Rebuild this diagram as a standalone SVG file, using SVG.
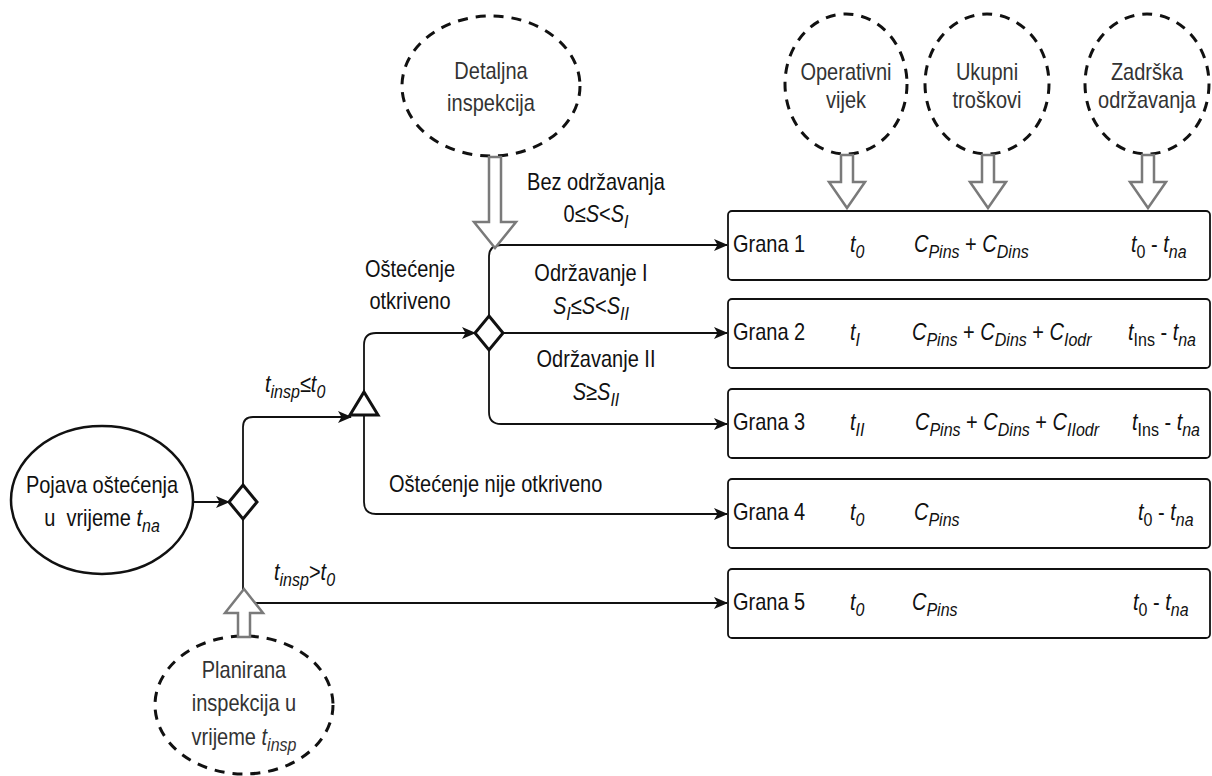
<svg xmlns="http://www.w3.org/2000/svg" width="1212" height="776" viewBox="0 0 1212 776">
<style>
text{font-family:"Liberation Sans",Arial,sans-serif;font-size:20px;fill:#111}
.g{fill:#333}
.i{font-style:italic}
.s{font-size:16px}
.c{text-anchor:middle}
.dash{fill:none;stroke:#111;stroke-width:3;stroke-dasharray:10 8}
.hol{fill:#fff;stroke:#7a7a7a;stroke-width:2.5;stroke-linejoin:miter}
.box{fill:#fff;stroke:#111;stroke-width:1.8}
.con{fill:none;stroke:#111;stroke-width:1.8}
.sym{fill:#fff;stroke:#111;stroke-width:3}
</style>
<defs>
<marker id="ah" markerUnits="userSpaceOnUse" markerWidth="14" markerHeight="14" viewBox="0 0 14 14" refX="13" refY="7" orient="auto">
<path d="M0,1 L14,7 L0,13 L3.5,7 Z" fill="#111"/>
</marker>
</defs>
<rect width="1212" height="776" fill="#fff"/>

<g id="connectors">
<path class="con" d="M193,502 L229,502" marker-end="url(#ah)"/>
<path class="con" d="M243,485 L243,427 Q243,417 253,417 L351,417" marker-end="url(#ah)"/>
<path class="con" d="M364,392 L364,345 Q364,333 376,333 L475,333" marker-end="url(#ah)"/>
<path class="con" d="M364,416 L364,502 Q364,514 376,514 L727,514" marker-end="url(#ah)"/>
<path class="con" d="M489,317 L489,257 Q489,245 501,245 L727,245" marker-end="url(#ah)"/>
<path class="con" d="M503,333 L727,333" marker-end="url(#ah)"/>
<path class="con" d="M489,350 L489,412 Q489,424 501,424 L727,424" marker-end="url(#ah)"/>
<path class="con" d="M243,519 L243,593 Q243,603 253,603 L727,603" marker-end="url(#ah)"/>
</g>

<g id="start">
<ellipse cx="102" cy="500" rx="91" ry="74" fill="#fff" stroke="#111" stroke-width="2.5"/>
<text class="c" transform="translate(102,493) scale(1,1.2)">Pojava oštećenja</text>
<text class="c" transform="translate(102,526) scale(1,1.2)">u&#160; vrijeme <tspan class="i">t</tspan><tspan class="i s" dy="5">na</tspan></text>
</g>

<g id="decision1"><polygon class="sym" points="243,485 257,502 243,519 229,502"/></g>
<g id="triangle"><polygon class="sym" points="364,392 378,415 350,415"/></g>
<g id="decision2"><polygon class="sym" points="489,316 503,333 489,350 475,333"/></g>

<g id="labels">
<text transform="translate(265,392) scale(1,1.2)"><tspan class="i">t</tspan><tspan class="i s" dy="5">insp</tspan><tspan dy="-5">≤</tspan><tspan class="i">t</tspan><tspan class="i s" dy="5">0</tspan></text>
<text transform="translate(274,580) scale(1,1.2)"><tspan class="i">t</tspan><tspan class="i s" dy="5">insp</tspan><tspan dy="-5">&gt;</tspan><tspan class="i">t</tspan><tspan class="i s" dy="5">0</tspan></text>
<text class="c" transform="translate(410,277) scale(1,1.2)">Oštećenje</text>
<text class="c" transform="translate(410,309) scale(1,1.2)">otkriveno</text>
<text class="c" transform="translate(596,190) scale(1,1.2)">Bez održavanja</text>
<text class="c" transform="translate(596,222) scale(1,1.2)">0≤<tspan class="i">S</tspan>&lt;<tspan class="i">S</tspan><tspan class="i s" dy="5">I</tspan></text>
<text class="c" transform="translate(591,281) scale(1,1.2)">Održavanje I</text>
<text class="c" transform="translate(591,314) scale(1,1.2)"><tspan class="i">S</tspan><tspan class="i s" dy="5">I</tspan><tspan dy="-5">≤</tspan><tspan class="i">S</tspan>&lt;<tspan class="i">S</tspan><tspan class="i s" dy="5">II</tspan></text>
<text class="c" transform="translate(596,367) scale(1,1.2)">Održavanje II</text>
<text class="c" transform="translate(596,400) scale(1,1.2)"><tspan class="i">S</tspan>≥<tspan class="i">S</tspan><tspan class="i s" dy="5">II</tspan></text>
<text transform="translate(389,492) scale(1,1.2)">Oštećenje nije otkriveno</text>
</g>

<g id="detaljna">
<ellipse class="dash" cx="491" cy="86" rx="89" ry="70"/>
<text class="c g" transform="translate(491,79) scale(1,1.2)">Detaljna</text>
<text class="c g" transform="translate(491,111) scale(1,1.2)">inspekcija</text>
<path class="hol" d="M489,157 L501,157 L501,222 L516,222 L495,248 L474,222 L489,222 Z"/>
</g>

<g id="operativni">
<ellipse class="dash" cx="846" cy="84" rx="61" ry="70"/>
<text class="c g" transform="translate(846,80) scale(1,1.2)">Operativni</text>
<text class="c g" transform="translate(846,108) scale(1,1.2)">vijek</text>
<path class="hol" d="M841,155 L853,155 L853,182 L865,182 L847,208 L829,182 L841,182 Z"/>
</g>
<g id="ukupni">
<ellipse class="dash" cx="987" cy="84" rx="62" ry="70"/>
<text class="c g" transform="translate(987,80) scale(1,1.2)">Ukupni</text>
<text class="c g" transform="translate(987,108) scale(1,1.2)">troškovi</text>
<path class="hol" d="M982,155 L994,155 L994,182 L1006,182 L988,208 L970,182 L982,182 Z"/>
</g>
<g id="zadrska">
<ellipse class="dash" cx="1147" cy="84" rx="62" ry="70"/>
<text class="c g" transform="translate(1147,80) scale(1,1.2)">Zadrška</text>
<text class="c g" transform="translate(1147,108) scale(1,1.2)">održavanja</text>
<path class="hol" d="M1142,155 L1154,155 L1154,182 L1166,182 L1148,208 L1130,182 L1142,182 Z"/>
</g>

<g id="planirana">
<ellipse class="dash" cx="244" cy="705" rx="89" ry="69"/>
<text class="c g" transform="translate(244,678) scale(1,1.2)">Planirana</text>
<text class="c g" transform="translate(244,711) scale(1,1.2)">inspekcija u</text>
<text class="c g" transform="translate(244,745) scale(1,1.2)">vrijeme <tspan class="i">t</tspan><tspan class="i s" dy="5">insp</tspan></text>
<path class="hol" d="M238,637 L250,637 L250,613 L263,613 L244,589 L225,613 L238,613 Z"/>
</g>

<g id="grana1">
<rect class="box" x="728" y="211" width="482" height="69" rx="4"/>
<text transform="translate(733,252) scale(1,1.2)">Grana 1</text>
<text transform="translate(850,252) scale(1,1.2)"><tspan class="i">t</tspan><tspan class="i s" dy="5">0</tspan></text>
<text transform="translate(914,252) scale(1,1.2)"><tspan class="i">C</tspan><tspan class="i s" dy="5">Pins</tspan><tspan dy="-5"> + </tspan><tspan class="i">C</tspan><tspan class="i s" dy="5">Dins</tspan></text>
<text transform="translate(1131,252) scale(1,1.2)"><tspan class="i">t</tspan><tspan class="s" dy="5">0</tspan><tspan dy="-5"> - </tspan><tspan class="i">t</tspan><tspan class="i s" dy="5">na</tspan></text>
</g>
<g id="grana2">
<rect class="box" x="728" y="299" width="482" height="69" rx="4"/>
<text transform="translate(733,340) scale(1,1.2)">Grana 2</text>
<text transform="translate(850,340) scale(1,1.2)"><tspan class="i">t</tspan><tspan class="i s" dy="5">I</tspan></text>
<text transform="translate(912,340) scale(1,1.2)"><tspan class="i">C</tspan><tspan class="i s" dy="5">Pins</tspan><tspan dy="-5"> + </tspan><tspan class="i">C</tspan><tspan class="i s" dy="5">Dins</tspan><tspan dy="-5"> + </tspan><tspan class="i">C</tspan><tspan class="i s" dy="5">Iodr</tspan></text>
<text transform="translate(1128,340) scale(1,1.2)"><tspan class="i">t</tspan><tspan class="s" dy="5">Ins</tspan><tspan dy="-5"> - </tspan><tspan class="i">t</tspan><tspan class="i s" dy="5">na</tspan></text>
</g>
<g id="grana3">
<rect class="box" x="728" y="389" width="482" height="69" rx="4"/>
<text transform="translate(733,430) scale(1,1.2)">Grana 3</text>
<text transform="translate(850,430) scale(1,1.2)"><tspan class="i">t</tspan><tspan class="i s" dy="5">II</tspan></text>
<text transform="translate(915,430) scale(1,1.2)"><tspan class="i">C</tspan><tspan class="i s" dy="5">Pins</tspan><tspan dy="-5"> + </tspan><tspan class="i">C</tspan><tspan class="i s" dy="5">Dins</tspan><tspan dy="-5"> + </tspan><tspan class="i">C</tspan><tspan class="i s" dy="5">IIodr</tspan></text>
<text transform="translate(1132,430) scale(1,1.2)"><tspan class="i">t</tspan><tspan class="s" dy="5">Ins</tspan><tspan dy="-5"> - </tspan><tspan class="i">t</tspan><tspan class="i s" dy="5">na</tspan></text>
</g>
<g id="grana4">
<rect class="box" x="728" y="479" width="482" height="69" rx="4"/>
<text transform="translate(733,520) scale(1,1.2)">Grana 4</text>
<text transform="translate(850,520) scale(1,1.2)"><tspan class="i">t</tspan><tspan class="i s" dy="5">0</tspan></text>
<text transform="translate(914,520) scale(1,1.2)"><tspan class="i">C</tspan><tspan class="i s" dy="5">Pins</tspan></text>
<text transform="translate(1138,520) scale(1,1.2)"><tspan class="i">t</tspan><tspan class="s" dy="5">0</tspan><tspan dy="-5"> - </tspan><tspan class="i">t</tspan><tspan class="i s" dy="5">na</tspan></text>
</g>
<g id="grana5">
<rect class="box" x="728" y="569" width="482" height="69" rx="4"/>
<text transform="translate(733,610) scale(1,1.2)">Grana 5</text>
<text transform="translate(850,610) scale(1,1.2)"><tspan class="i">t</tspan><tspan class="i s" dy="5">0</tspan></text>
<text transform="translate(912,610) scale(1,1.2)"><tspan class="i">C</tspan><tspan class="i s" dy="5">Pins</tspan></text>
<text transform="translate(1133,610) scale(1,1.2)"><tspan class="i">t</tspan><tspan class="s" dy="5">0</tspan><tspan dy="-5"> - </tspan><tspan class="i">t</tspan><tspan class="i s" dy="5">na</tspan></text>
</g>
</svg>
